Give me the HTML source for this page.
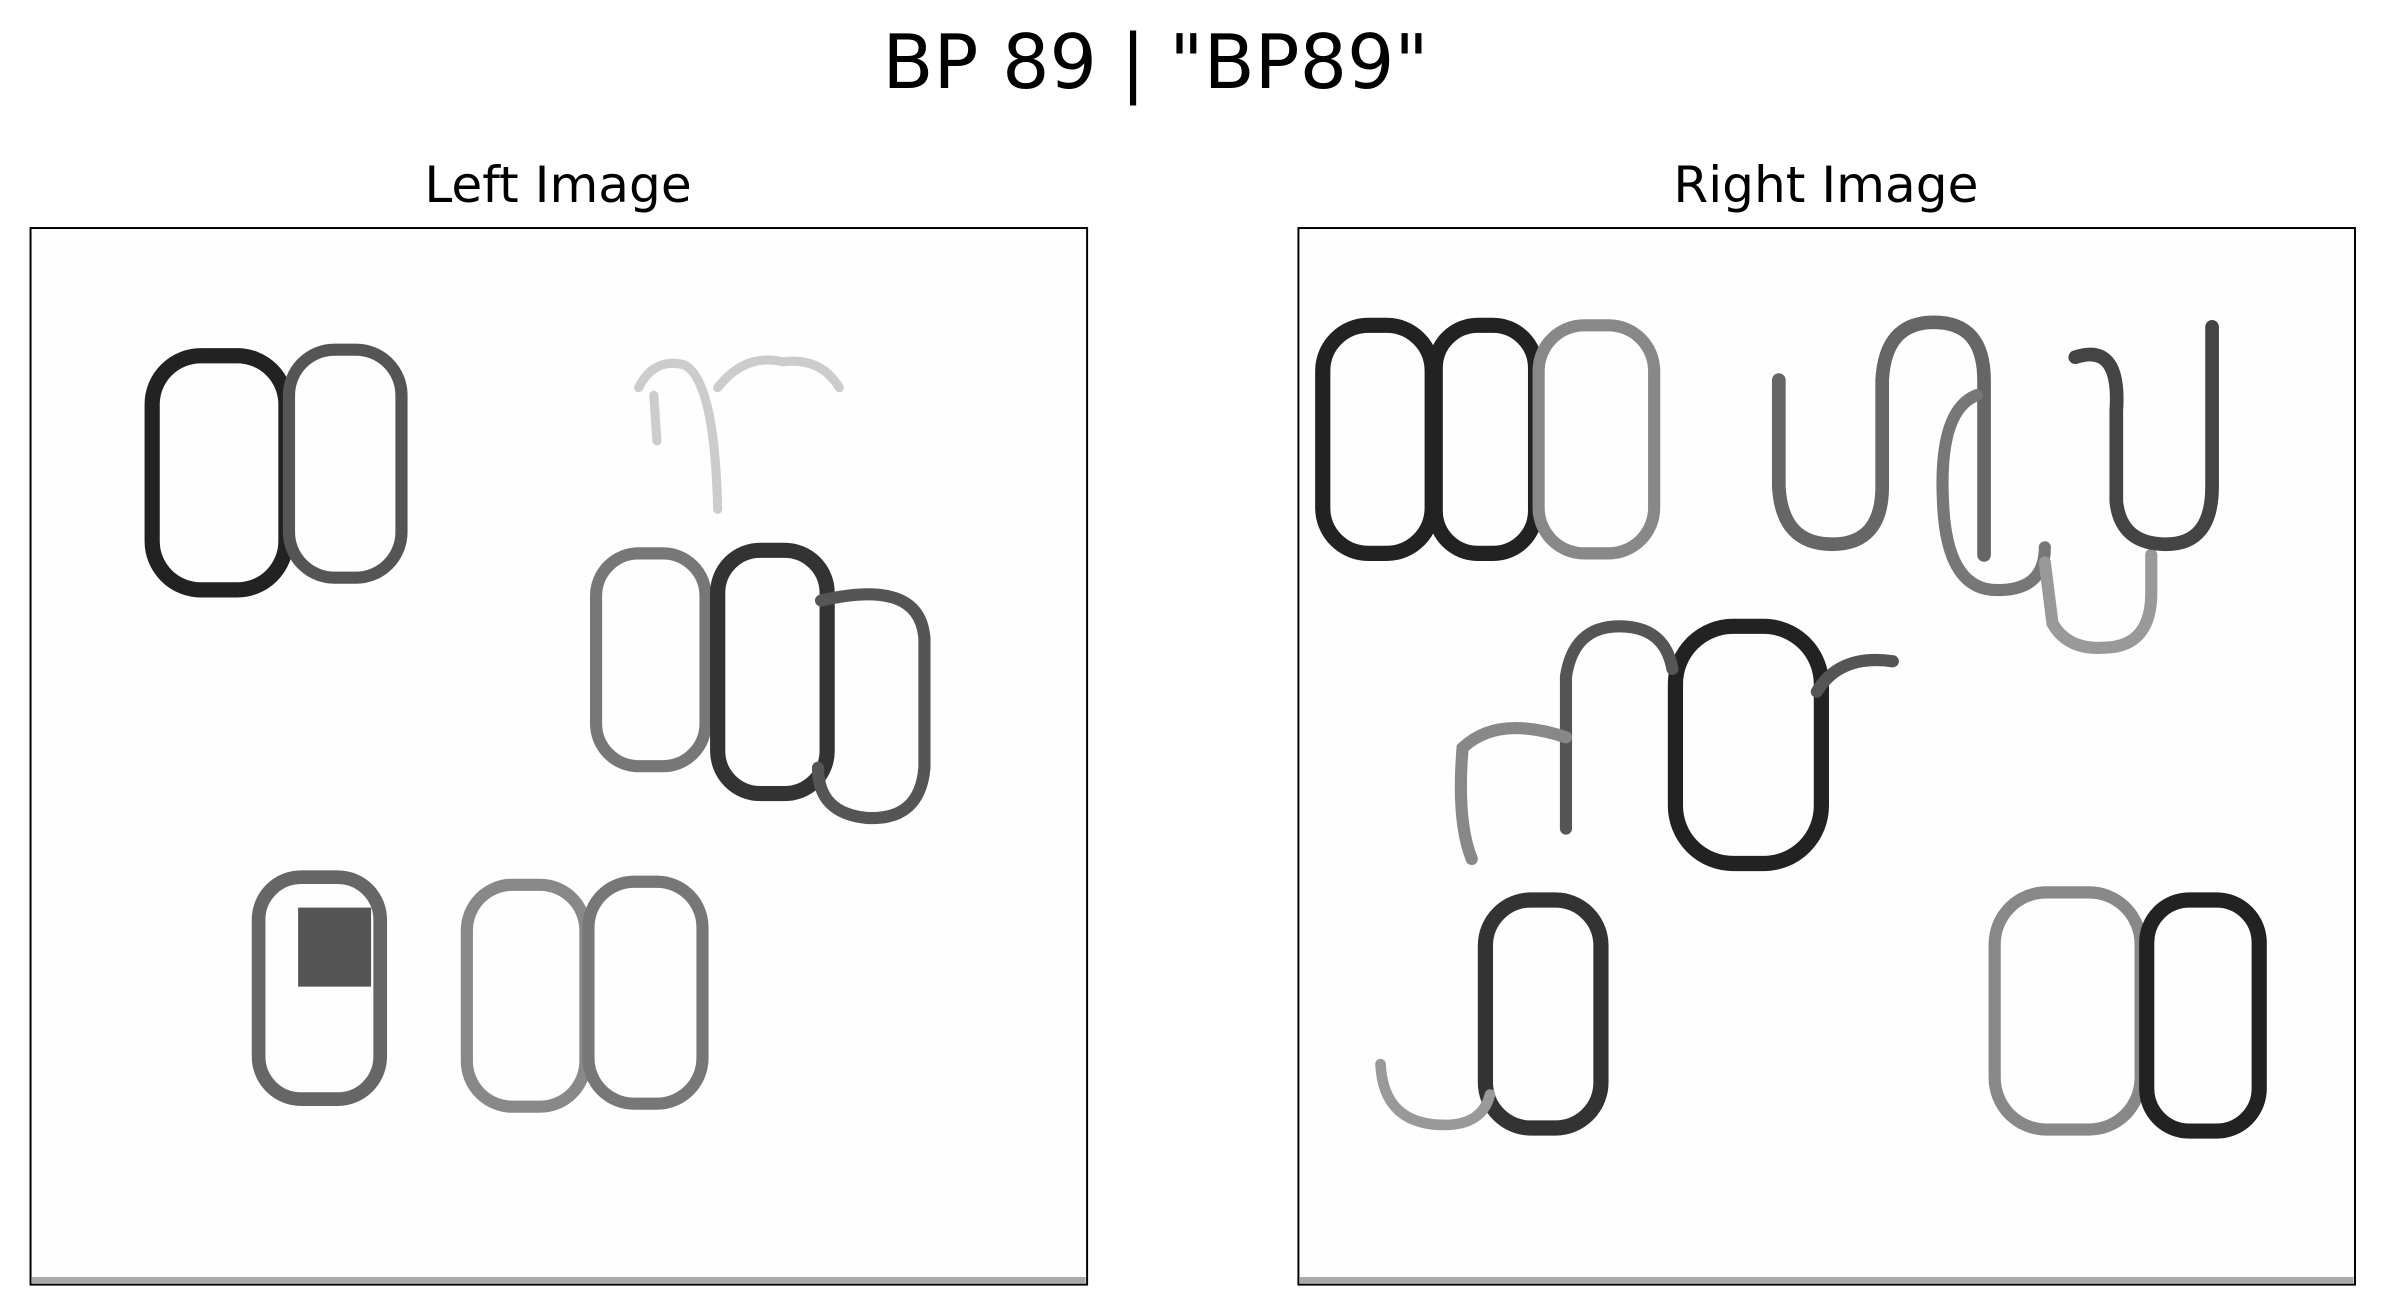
<!DOCTYPE html>
<html><head><meta charset="utf-8"><style>
html,body{margin:0;padding:0;background:#fff;}
svg{display:block;}
text{font-family:"DejaVu Sans","Liberation Sans",sans-serif;fill:#000;}
</style></head><body>
<svg width="2384" height="1315" viewBox="0 0 1568 865" xmlns="http://www.w3.org/2000/svg">
<rect width="1568" height="865" fill="#fff"/>
<text x="760" y="58" font-size="49" text-anchor="middle">BP 89 | "BP89"</text>
<text x="367" y="133" font-size="33" text-anchor="middle">Left Image</text>
<text x="1201" y="133" font-size="33" text-anchor="middle">Right Image</text>

<g fill="none" stroke-linecap="round">
<rect x="20" y="150" width="695" height="695" fill="#fefefe" stroke="none"/>
<rect x="100" y="234" width="88" height="154" rx="32" stroke="#222" stroke-width="10"/>
<rect x="190" y="230" width="74" height="150" rx="30" stroke="#555" stroke-width="8"/>
<path d="M420 255 Q430 235 450 240 Q470 250 472 335 M472 255 Q490 232 515 238 Q540 235 552 255 M430 260 L432 290" stroke="#ccc" stroke-width="6"/>
<rect x="392" y="364" width="72" height="140" rx="28" stroke="#777" stroke-width="8"/>
<rect x="472" y="362" width="72" height="160" rx="28" stroke="#333" stroke-width="10"/>
<path d="M540 395 Q605 380 608 420 L608 505 Q605 540 570 538 Q538 535 538 505" stroke="#555" stroke-width="8"/>
<rect x="170" y="577" width="80" height="146" rx="28" stroke="#666" stroke-width="9"/>
<rect x="196" y="597" width="48" height="52" fill="#555" stroke="none"/>
<rect x="307" y="582" width="78" height="146" rx="30" stroke="#888" stroke-width="8"/>
<rect x="387" y="580" width="75" height="146" rx="30" stroke="#777" stroke-width="8"/>
<rect x="21" y="840" width="693" height="4" fill="#aaa" stroke="none"/>
<rect x="20" y="150" width="695" height="695" stroke="#000" stroke-width="1.3"/>
</g>

<g fill="none" stroke-linecap="round">
<rect x="854" y="150" width="695" height="695" fill="#fefefe" stroke="none"/>
<rect x="870" y="214" width="72" height="150" rx="30" stroke="#222" stroke-width="10"/>
<rect x="944" y="214" width="66" height="150" rx="28" stroke="#222" stroke-width="10"/>
<rect x="1012" y="214" width="76" height="150" rx="30" stroke="#888" stroke-width="8"/>
<path d="M1170 250 L1170 320 Q1172 358 1205 358 Q1238 358 1238 320 L1238 250 Q1240 212 1272 212 Q1305 212 1305 250 L1305 365" stroke="#666" stroke-width="9"/>
<path d="M1300 260 Q1275 270 1278 330 Q1280 385 1310 388 Q1345 390 1345 360" stroke="#777" stroke-width="8"/>
<path d="M1345 370 L1350 410 Q1360 428 1385 426 Q1415 425 1415 390 L1415 365" stroke="#999" stroke-width="8"/>
<path d="M1365 235 Q1395 225 1392 270 L1392 330 Q1395 358 1425 358 Q1455 358 1455 320 L1455 215" stroke="#444" stroke-width="9"/>
<rect x="1102" y="412" width="96" height="156" rx="38" stroke="#222" stroke-width="10"/>
<path d="M1030 545 L1030 445 Q1035 412 1065 412 Q1095 412 1100 440 M1195 455 Q1210 430 1245 435" stroke="#555" stroke-width="8"/>
<path d="M1030 485 Q985 470 962 492 Q958 540 968 565" stroke="#888" stroke-width="8"/>
<rect x="977" y="592" width="76" height="150" rx="30" stroke="#333" stroke-width="10"/>
<path d="M908 700 Q910 740 950 740 Q975 740 980 720" stroke="#999" stroke-width="7"/>
<rect x="1312" y="587" width="96" height="156" rx="34" stroke="#888" stroke-width="8"/>
<rect x="1412" y="592" width="74" height="152" rx="28" stroke="#222" stroke-width="10"/>
<rect x="855" y="840" width="693" height="4" fill="#aaa" stroke="none"/>
<rect x="854" y="150" width="695" height="695" stroke="#000" stroke-width="1.3"/>
</g>
</svg>
</body></html>
